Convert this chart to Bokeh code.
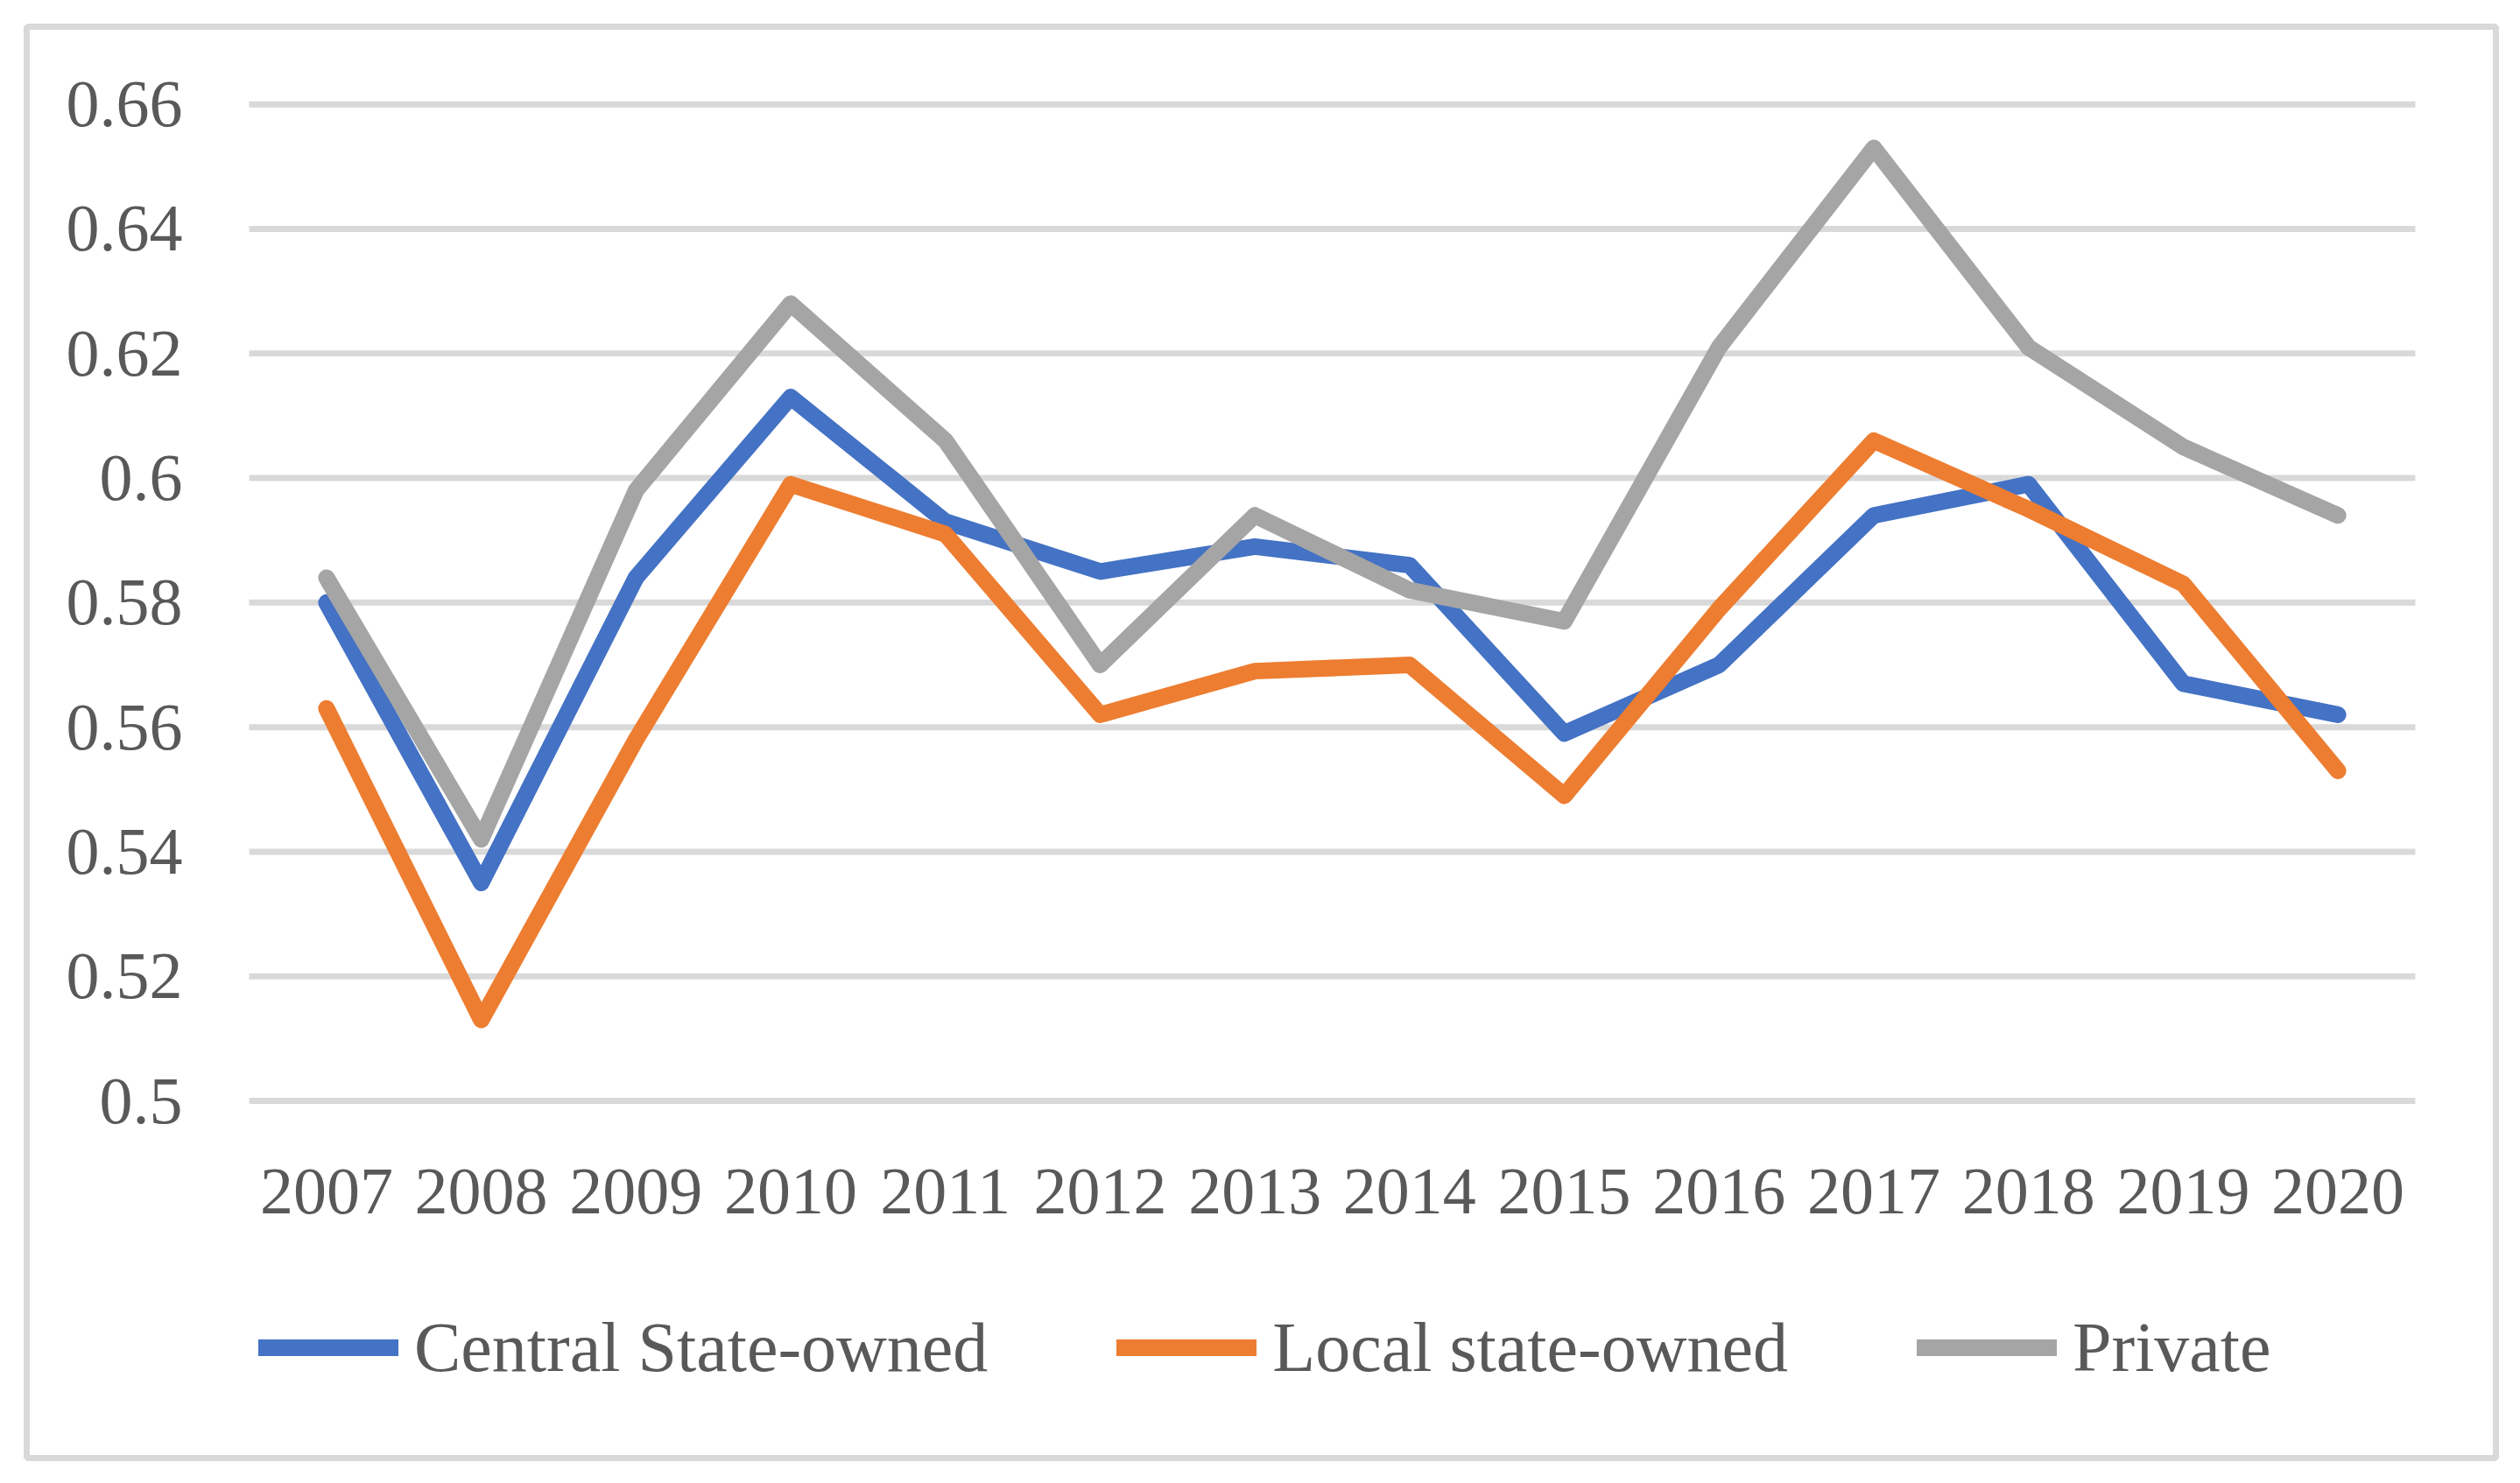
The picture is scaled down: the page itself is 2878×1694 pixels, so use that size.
from bokeh.plotting import figure
from bokeh.models import Range1d, FixedTicker, Legend, LegendItem
from bokeh.embed import file_html
from bokeh.resources import INLINE

years = ["2007", "2008", "2009", "2010", "2011", "2012", "2013",
         "2014", "2015", "2016", "2017", "2018", "2019", "2020"]
central = [0.580, 0.535, 0.584, 0.613, 0.593, 0.585, 0.589,
           0.586, 0.559, 0.570, 0.594, 0.599, 0.567, 0.562]
local = [0.563, 0.513, 0.558, 0.599, 0.591, 0.562, 0.569,
         0.570, 0.549, 0.579, 0.606, 0.595, 0.583, 0.553]
private = [0.584, 0.542, 0.598, 0.628, 0.606, 0.570, 0.594,
           0.582, 0.577, 0.621, 0.653, 0.621, 0.605, 0.594]
series_names = ["Central State-owned", "Local state-owned", "Private"]
series_colors = ["#4472C4", "#ED7D31", "#A5A5A5"]
y_ticks = [0.5, 0.52, 0.54, 0.56, 0.58, 0.6, 0.62, 0.64, 0.66]
y_tick_labels = ["0.5", "0.52", "0.54", "0.56", "0.58", "0.6", "0.62", "0.64", "0.66"]

FONT = "Liberation Serif"
TEXT = "#595959"
GRID = "#D9D9D9"

x_vals = [int(y) for y in years]
band_left = x_vals[0] - 0.5
band_right = x_vals[-1] + 0.5

# The frame is the chart's bordered box; the plot area sits inside it.
p = figure(width=2862, height=1678, output_backend="svg", toolbar_location=None,
           x_range=Range1d(2005.0624, 2021.0209),
           y_range=Range1d(0.442657, 0.672466),
           min_border_left=30, min_border_right=12,
           min_border_top=30, min_border_bottom=13)
p.outline_line_color = GRID
p.outline_line_width = 7
p.background_fill_color = "white"
p.border_fill_color = "white"
p.grid.visible = False

# horizontal gridlines across the category band
p.segment(x0=[band_left] * len(y_ticks), x1=[band_right] * len(y_ticks),
          y0=y_ticks, y1=y_ticks, line_color=GRID, line_width=7, line_cap="butt")

p.yaxis.ticker = FixedTicker(ticks=y_ticks)
p.yaxis.major_label_overrides = {t: l for t, l in zip(y_ticks, y_tick_labels)}
p.yaxis.fixed_location = band_left
p.xaxis.ticker = FixedTicker(ticks=x_vals)
p.xaxis.major_label_overrides = {v: s for v, s in zip(x_vals, years)}
p.xaxis.fixed_location = y_ticks[0]

for ax in (p.xaxis[0], p.yaxis[0]):
    ax.axis_line_color = None
    ax.major_tick_line_color = None
    ax.minor_tick_line_color = None
    ax.major_tick_out = 0
    ax.major_tick_in = 0
    ax.minor_tick_out = 0
    ax.minor_tick_in = 0
    ax.major_label_text_font = FONT
    ax.major_label_text_font_size = "76px"
    ax.major_label_text_color = TEXT
p.xaxis.major_label_standoff = 78
p.yaxis.major_label_standoff = 76

renderers = []
for vals, col in zip([central, local, private], series_colors):
    r = p.line(x=x_vals, y=vals, line_color=col, line_width=19,
               line_cap="round", line_join="round")
    renderers.append(r)

legend = Legend(items=[LegendItem(label=n, renderers=[r]) for n, r in zip(series_names, renderers)],
                location=(265, 76), orientation="horizontal",
                glyph_width=160, glyph_height=100, label_height=100,
                label_standoff=18, padding=0, margin=0, spacing=147,
                border_line_alpha=0, background_fill_alpha=0,
                label_text_font=FONT, label_text_font_size="80px",
                label_text_color=TEXT)
p.add_layout(legend, "center")

open("out.html", "w").write(file_html(p, INLINE))
